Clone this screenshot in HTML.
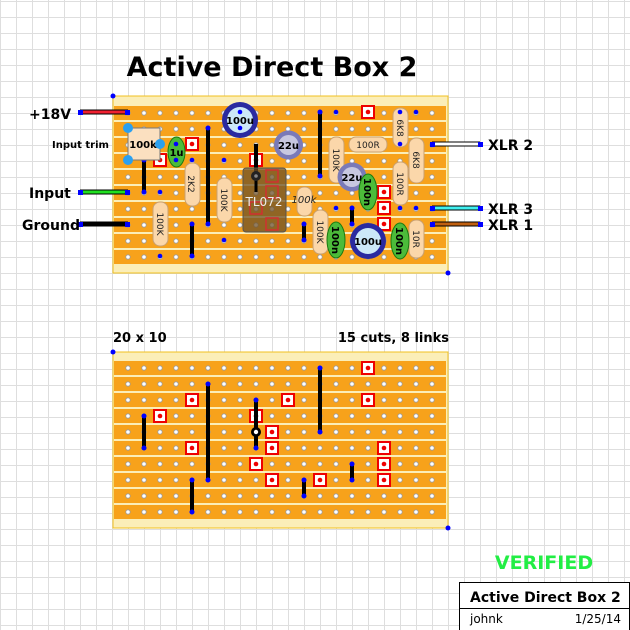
<!DOCTYPE html>
<html><head><meta charset="utf-8"><style>
html,body{margin:0;padding:0;background:#fff}
svg{display:block}
text{font-family:"DejaVu Sans","Liberation Sans",sans-serif}
</style></head><body>
<svg width="630" height="630" viewBox="0 0 630 630" xmlns="http://www.w3.org/2000/svg">
<defs>
<pattern id="grid" x="0" y="1" width="16" height="16" patternUnits="userSpaceOnUse">
<path d="M0.5 0V16M0 0.5H16" stroke="#dedede" stroke-width="1" fill="none"/>
</pattern>
<pattern id="h1" x="120" y="105" width="16" height="16" patternUnits="userSpaceOnUse">
<circle cx="8" cy="8" r="2.2" fill="#fff" stroke="#999" stroke-width="0.8"/>
</pattern>
<pattern id="h2" x="120" y="360" width="16" height="16" patternUnits="userSpaceOnUse">
<circle cx="8" cy="8" r="2.2" fill="#fff" stroke="#999" stroke-width="0.8"/>
</pattern>
<g id="cut"><rect x="-6" y="-6" width="12" height="12" fill="#fff" stroke="#e00" stroke-width="2"/><circle r="2.3" fill="#e00"/></g>
</defs>
<rect width="630" height="630" fill="url(#grid)"/>

<text x="272" y="76" font-size="27" font-weight="bold" text-anchor="middle">Active Direct Box 2</text>

<!-- BOARD 1 -->
<rect x="113" y="96" width="335" height="177" fill="#fbeeb8" stroke="#f0c020" stroke-width="1"/>
<g fill="#f7a21b">
<rect x="114" y="106" width="332" height="14"/><rect x="114" y="122" width="332" height="14"/><rect x="114" y="138" width="332" height="14"/><rect x="114" y="154" width="332" height="14"/><rect x="114" y="170" width="332" height="14"/><rect x="114" y="186" width="332" height="14"/><rect x="114" y="202" width="332" height="14"/><rect x="114" y="218" width="332" height="14"/><rect x="114" y="234" width="332" height="14"/><rect x="114" y="250" width="332" height="14"/>
</g>
<rect x="120" y="105" width="320" height="160" fill="url(#h1)"/>
<circle cx="113" cy="96" r="2.5" fill="#00f"/><circle cx="448" cy="273" r="2.5" fill="#00f"/>

<g stroke="#000" stroke-width="5"><line x1="80" y1="112" x2="128" y2="112"/><line x1="80" y1="192" x2="128" y2="192"/><line x1="80" y1="224" x2="128" y2="224"/><line x1="432" y1="144" x2="480" y2="144"/><line x1="432" y1="208" x2="480" y2="208"/><line x1="432" y1="224" x2="480" y2="224"/></g>
<g stroke-width="3"><line x1="80" y1="112" x2="128" y2="112" stroke="#f02030"/><line x1="80" y1="192" x2="128" y2="192" stroke="#20e020"/><line x1="80" y1="224" x2="128" y2="224" stroke="#000"/><line x1="432" y1="144" x2="480" y2="144" stroke="#fff"/><line x1="432" y1="208" x2="480" y2="208" stroke="#40f0f0"/><line x1="432" y1="224" x2="480" y2="224" stroke="#c06010"/></g>
<g fill="#00f"><rect x="78" y="110" width="5" height="5"/><rect x="125" y="110" width="5" height="5"/><rect x="78" y="190" width="5" height="5"/><rect x="125" y="190" width="5" height="5"/><rect x="78" y="222" width="5" height="5"/><rect x="125" y="222" width="5" height="5"/><rect x="430" y="142" width="5" height="5"/><rect x="478" y="142" width="5" height="5"/><rect x="430" y="206" width="5" height="5"/><rect x="478" y="206" width="5" height="5"/><rect x="430" y="222" width="5" height="5"/><rect x="478" y="222" width="5" height="5"/></g>
<g font-size="14" font-weight="bold"><text x="29" y="119">+18V</text><text x="29" y="198">Input</text><text x="22" y="230">Ground</text><text x="488" y="150">XLR 2</text><text x="488" y="214">XLR 3</text><text x="488" y="230">XLR 1</text></g>
<text x="52" y="148" font-size="10" font-weight="bold">Input trim</text>

<use href="#cut" x="192" y="144"/><use href="#cut" x="160" y="160"/><use href="#cut" x="256" y="160"/><use href="#cut" x="368" y="112"/><use href="#cut" x="384" y="192"/><use href="#cut" x="384" y="208"/><use href="#cut" x="384" y="224"/>

<g stroke="#000" stroke-width="4"><line x1="144" y1="160" x2="144" y2="192"/><line x1="208" y1="128" x2="208" y2="224"/><line x1="256" y1="144" x2="256" y2="176"/><line x1="320" y1="112" x2="320" y2="176"/><line x1="192" y1="224" x2="192" y2="256"/><line x1="304" y1="224" x2="304" y2="240"/><line x1="352" y1="208" x2="352" y2="224"/></g>
<g fill="#00f"><circle cx="144" cy="160" r="2.5"/><circle cx="144" cy="192" r="2.5"/><circle cx="208" cy="128" r="2.5"/><circle cx="208" cy="224" r="2.5"/><circle cx="320" cy="112" r="2.5"/><circle cx="320" cy="176" r="2.5"/><circle cx="192" cy="224" r="2.5"/><circle cx="192" cy="256" r="2.5"/><circle cx="304" cy="224" r="2.5"/><circle cx="304" cy="240" r="2.5"/><circle cx="352" cy="208" r="2.5"/><circle cx="352" cy="224" r="2.5"/></g>

<rect x="128" y="128" width="32" height="32" fill="#fbe0c0" stroke="#777"/>
<text x="143" y="148" font-size="10" font-weight="bold" text-anchor="middle">100k</text>
<g fill="#2aa0f0"><circle cx="128" cy="128" r="5"/><circle cx="128" cy="160" r="5"/><circle cx="160" cy="144" r="5"/></g>
<ellipse cx="176.5" cy="152" rx="8.5" ry="15" fill="#4cbb3a" stroke="#1a7a10"/>
<text x="176.5" y="156" font-size="10" font-weight="bold" text-anchor="middle">1u</text>
<g fill="#00f"><circle cx="176" cy="144" r="2.3"/><circle cx="176" cy="160" r="2.3"/></g>

<g fill="#fbd7aa" stroke="#c9a070" stroke-width="1">
<rect x="185" y="163" width="15" height="43" rx="7"/>
<rect x="217" y="178" width="15" height="44" rx="7"/>
<rect x="153" y="202" width="15" height="44" rx="7"/>
<rect x="329" y="137" width="15" height="46" rx="7"/>
<rect x="349" y="137" width="38" height="15" rx="7"/>
<rect x="393" y="108" width="15" height="39" rx="7"/>
<rect x="409" y="138" width="15" height="45" rx="7"/>
<rect x="393" y="162" width="15" height="43" rx="7"/>
<rect x="409" y="220" width="15" height="38" rx="7"/>
<rect x="297" y="187" width="15" height="29" rx="7"/>
<rect x="313" y="210" width="15" height="44" rx="7"/>
</g>
<g font-size="9" fill="#222">
<text transform="translate(188,184) rotate(90)" text-anchor="middle">2K2</text>
<text transform="translate(221,200) rotate(90)" text-anchor="middle">100K</text>
<text transform="translate(157,224) rotate(90)" text-anchor="middle">100K</text>
<text transform="translate(333,160) rotate(90)" text-anchor="middle">100K</text>
<text x="368" y="148" text-anchor="middle">100R</text>
<text transform="translate(397,128) rotate(90)" text-anchor="middle">6K8</text>
<text transform="translate(413,160) rotate(90)" text-anchor="middle">6K8</text>
<text transform="translate(397,184) rotate(90)" text-anchor="middle">100R</text>
<text transform="translate(413,239) rotate(90)" text-anchor="middle">10R</text>
<text transform="translate(317,232) rotate(90)" text-anchor="middle">100K</text>
<text x="304" y="203" text-anchor="middle" font-style="italic" font-size="10">100k</text>
</g>

<rect x="243" y="168" width="43" height="64" rx="3" fill="rgba(110,80,40,0.75)" stroke="#555"/>
<g fill="none" stroke="#d03030" stroke-width="1.5"><rect x="266" y="170" width="12" height="12"/><rect x="266" y="186" width="12" height="12"/><rect x="250" y="202" width="12" height="12"/><rect x="266" y="218" width="12" height="12"/></g>
<text x="264" y="206" font-size="12" fill="#eee" text-anchor="middle">TL072</text>
<line x1="256" y1="176" x2="256" y2="192" stroke="#000" stroke-width="3"/>
<circle cx="256" cy="176" r="5" fill="#222"/><circle cx="256" cy="176" r="1.8" fill="#888"/>

<circle cx="240" cy="120" r="18" fill="#2a2aa0"/><circle cx="240" cy="120" r="13" fill="#cce8f8"/>
<text x="240" y="124" font-size="10" font-weight="bold" text-anchor="middle">100u</text>
<circle cx="288.5" cy="145" r="14.5" fill="#7a7ab8"/><circle cx="288.5" cy="145" r="10" fill="#c8c8e0"/>
<text x="288.5" y="149" font-size="10" font-weight="bold" text-anchor="middle">22u</text>
<circle cx="352" cy="177" r="14.5" fill="#7a7ab8"/><circle cx="352" cy="177" r="10" fill="#c8c8e0"/>
<text x="352" y="181" font-size="10" font-weight="bold" text-anchor="middle">22u</text>
<circle cx="368" cy="241" r="18" fill="#2a2aa0"/><circle cx="368" cy="241" r="13" fill="#cce8f8"/>
<text x="368" y="245" font-size="10" font-weight="bold" text-anchor="middle">100u</text>
<g fill="#4cbb3a" stroke="#1a7a10"><ellipse cx="368" cy="192" rx="9" ry="18"/><ellipse cx="336" cy="240" rx="9" ry="18"/><ellipse cx="400" cy="241" rx="9" ry="18"/></g>
<g font-size="10" font-weight="bold">
<text transform="translate(364,192) rotate(90)" text-anchor="middle">100n</text>
<text transform="translate(332,240) rotate(90)" text-anchor="middle">100n</text>
<text transform="translate(396,241) rotate(90)" text-anchor="middle">100n</text>
</g>
<g fill="#00f"><circle cx="224" cy="160" r="2.3"/><circle cx="224" cy="240" r="2.3"/><circle cx="160" cy="192" r="2.3"/><circle cx="160" cy="256" r="2.3"/><circle cx="336" cy="112" r="2.3"/><circle cx="336" cy="208" r="2.3"/><circle cx="400" cy="112" r="2.3"/><circle cx="416" cy="112" r="2.3"/><circle cx="400" cy="144" r="2.3"/><circle cx="400" cy="208" r="2.3"/><circle cx="416" cy="208" r="2.3"/><circle cx="192" cy="160" r="2.3"/><circle cx="240" cy="112" r="2.3"/><circle cx="240" cy="128" r="2.3"/></g>

<!-- BOARD 2 -->
<text x="113" y="342" font-size="13" font-weight="bold">20 x 10</text>
<text x="449" y="342" font-size="13" font-weight="bold" text-anchor="end">15 cuts, 8 links</text>
<rect x="113" y="352" width="335" height="176" fill="#fbeeb8" stroke="#f0c020" stroke-width="1"/>
<g fill="#f7a21b">
<rect x="114" y="361" width="332" height="14"/><rect x="114" y="377" width="332" height="14"/><rect x="114" y="393" width="332" height="14"/><rect x="114" y="409" width="332" height="14"/><rect x="114" y="425" width="332" height="14"/><rect x="114" y="441" width="332" height="14"/><rect x="114" y="457" width="332" height="14"/><rect x="114" y="473" width="332" height="14"/><rect x="114" y="489" width="332" height="14"/><rect x="114" y="505" width="332" height="14"/>
</g>
<rect x="120" y="360" width="320" height="160" fill="url(#h2)"/>
<circle cx="113" cy="352" r="2.5" fill="#00f"/><circle cx="448" cy="528" r="2.5" fill="#00f"/>
<use href="#cut" x="368" y="368"/><use href="#cut" x="192" y="400"/><use href="#cut" x="288" y="400"/><use href="#cut" x="368" y="400"/><use href="#cut" x="160" y="416"/><use href="#cut" x="256" y="416"/><use href="#cut" x="272" y="432"/><use href="#cut" x="192" y="448"/><use href="#cut" x="272" y="448"/><use href="#cut" x="384" y="448"/><use href="#cut" x="256" y="464"/><use href="#cut" x="384" y="464"/><use href="#cut" x="272" y="480"/><use href="#cut" x="320" y="480"/><use href="#cut" x="384" y="480"/>
<g stroke="#000" stroke-width="4"><line x1="144" y1="416" x2="144" y2="448"/><line x1="208" y1="384" x2="208" y2="480"/><line x1="256" y1="400" x2="256" y2="448"/><line x1="320" y1="368" x2="320" y2="432"/><line x1="192" y1="480" x2="192" y2="512"/><line x1="304" y1="480" x2="304" y2="496"/><line x1="352" y1="464" x2="352" y2="480"/></g>
<g fill="#00f"><circle cx="144" cy="416" r="2.5"/><circle cx="144" cy="448" r="2.5"/><circle cx="208" cy="384" r="2.5"/><circle cx="208" cy="480" r="2.5"/><circle cx="256" cy="400" r="2.5"/><circle cx="256" cy="448" r="2.5"/><circle cx="320" cy="368" r="2.5"/><circle cx="320" cy="432" r="2.5"/><circle cx="192" cy="480" r="2.5"/><circle cx="192" cy="512" r="2.5"/><circle cx="304" cy="480" r="2.5"/><circle cx="304" cy="496" r="2.5"/><circle cx="352" cy="464" r="2.5"/><circle cx="352" cy="480" r="2.5"/></g>
<circle cx="256" cy="432" r="5" fill="#000"/><circle cx="256" cy="432" r="2.2" fill="#fff"/>

<text x="544" y="569" font-size="19" font-weight="bold" fill="#22ee44" text-anchor="middle">VERIFIED</text>
<rect x="459.5" y="582.5" width="170" height="48" fill="#fff" stroke="#000"/>
<line x1="459.5" y1="608.5" x2="630" y2="608.5" stroke="#000"/>
<text x="470" y="602" font-size="14" font-weight="bold">Active Direct Box 2</text>
<text x="470" y="623" font-size="12">johnk</text>
<text x="621" y="623" font-size="12" text-anchor="end">1/25/14</text>
</svg>
</body></html>
